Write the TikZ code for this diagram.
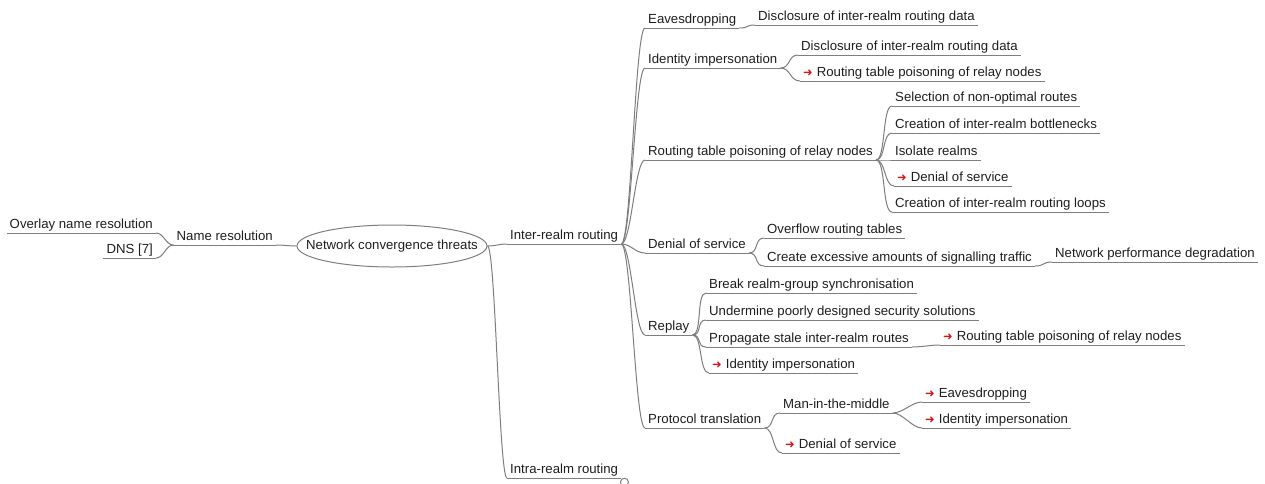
\documentclass[tikz,border=0pt]{standalone}
\usepackage{fontspec}
\setmainfont{Liberation Sans}
\newfontfamily\arrowfont{DejaVu Sans}
\usetikzlibrary{shapes.geometric}
\definecolor{edgegray}{HTML}{7E7E7E}
\definecolor{linkred}{HTML}{D01818}
\definecolor{topictext}{HTML}{1E1E1E}
\newcommand{\linkarrow}{{\arrowfont\fontsize{11.5}{12}\selectfont\color{linkred}➜}\hspace{4pt}}

\begin{document}
\begin{tikzpicture}[x=1pt, y=-1pt,
				   every node/.style={font=\fontsize{13.2}{15}\selectfont, text=topictext},
				   topic/.style={anchor=south west, inner xsep=3pt, inner ysep=1.5pt, text height=9.5pt, text depth=2.8pt},
				   lefttopic/.style={topic, anchor=south east},
				   branch/.style={draw=edgegray, line width=1pt},
				   fork/.style={to path={.. controls +(#1,0) and +(-#1,0) .. (\tikztotarget)}},
				   fork/.default=10]
\useasboundingbox (0,0) rectangle (1265,483);

\node[branch, ellipse, minimum width=190pt, minimum height=42pt] (threats) at (392,246) {};
\node (threatstext) at (threats.center) {Network convergence threats};

\node[lefttopic] (nameres) at (276,245) {Name resolution};
\node[lefttopic] (overlay) at (156,233) {Overlay name resolution};
\node[lefttopic] (dns) at (156,258) {DNS [7]};

\node[topic] (inter) at (507,244) {Inter-realm routing};
\node[topic] (intra) at (507,478) {Intra-realm routing};
\node[branch, circle, inner sep=0pt, minimum size=8pt, anchor=north west] (fold) at ([yshift=-1pt]intra.south east) {};

\node[topic] (eaves) at (645,28) {Eavesdropping};
\node[topic] (disclA) at (755,25) {Disclosure of inter-realm routing data};
\node[topic] (ident) at (645,68) {Identity impersonation};
\node[topic] (disclB) at (798,55) {Disclosure of inter-realm routing data};
\node[topic] (poisonA) at (800,81) {\linkarrow Routing table poisoning of relay nodes};
\node[topic] (poison) at (645,160) {Routing table poisoning of relay nodes};
\node[topic] (nonopt) at (892,106) {Selection of non-optimal routes};
\node[topic] (bottle) at (892,133) {Creation of inter-realm bottlenecks};
\node[topic] (isolate) at (892,160) {Isolate realms};
\node[topic] (dosA) at (894,186) {\linkarrow Denial of service};
\node[topic] (loops) at (892,212) {Creation of inter-realm routing loops};
\node[topic] (dos) at (645,253) {Denial of service};
\node[topic] (overflow) at (764,238) {Overflow routing tables};
\node[topic] (excess) at (764,266) {Create excessive amounts of signalling traffic};
\node[topic] (degrade) at (1052,262) {Network performance degradation};
\node[topic] (replay) at (645,335) {Replay};
\node[topic] (sync) at (706,293) {Break realm-group synchronisation};
\node[topic] (weak) at (706,320) {Undermine poorly designed security solutions};
\node[topic] (stale) at (706,347) {Propagate stale inter-realm routes};
\node[topic] (poisonB) at (940,345) {\linkarrow Routing table poisoning of relay nodes};
\node[topic] (identA) at (709,373) {\linkarrow Identity impersonation};
\node[topic] (protocol) at (645,428) {Protocol translation};
\node[topic] (mitm) at (780,413) {Man-in-the-middle};
\node[topic] (eavesA) at (922,402) {\linkarrow Eavesdropping};
\node[topic] (identB) at (922,428) {\linkarrow Identity impersonation};
\node[topic] (dosB) at (782,453) {\linkarrow Denial of service};

% underlines
\foreach \n in {nameres,overlay,dns,inter,intra,eaves,disclA,ident,disclB,poisonA,poison,nonopt,bottle,isolate,dosA,loops,dos,overflow,excess,degrade,replay,sync,weak,stale,poisonB,identA,protocol,mitm,eavesA,identB,dosB}
	\draw[branch] (\n.south west) -- (\n.south east);

% left side
\draw[branch] (threats.west) to[fork=-8] (nameres.south east);
\draw[branch] (nameres.south west) to[fork=-8] (overlay.south east);
\draw[branch] (nameres.south west) to[fork=-8] (dns.south east);

% right side
\draw[branch] (threats.east) to[fork=8] (inter.south west);
\draw[branch] (threats.east) to[fork=8] (intra.south west);
\foreach \n in {eaves,ident,poison,dos,replay,protocol}
	\draw[branch] (inter.south east) to[fork] (\n.south west);
\draw[branch] (eaves.south east) to[fork] (disclA.south west);
\draw[branch] (ident.south east) to[fork] (disclB.south west);
\draw[branch] (ident.south east) to[fork] (poisonA.south west);
\foreach \n in {nonopt,bottle,isolate,dosA,loops}
	\draw[branch] (poison.south east) to[fork] (\n.south west);
\draw[branch] (dos.south east) to[fork] (overflow.south west);
\draw[branch] (dos.south east) to[fork] (excess.south west);
\draw[branch] (excess.south east) to[fork] (degrade.south west);
\foreach \n in {sync,weak,stale,identA}
	\draw[branch] (replay.south east) to[fork] (\n.south west);
\draw[branch] (stale.south east) to[fork] (poisonB.south west);
\draw[branch] (protocol.south east) to[fork] (mitm.south west);
\draw[branch] (protocol.south east) to[fork] (dosB.south west);
\draw[branch] (mitm.south east) to[fork] (eavesA.south west);
\draw[branch] (mitm.south east) to[fork] (identB.south west);
\end{tikzpicture}
\end{document}
